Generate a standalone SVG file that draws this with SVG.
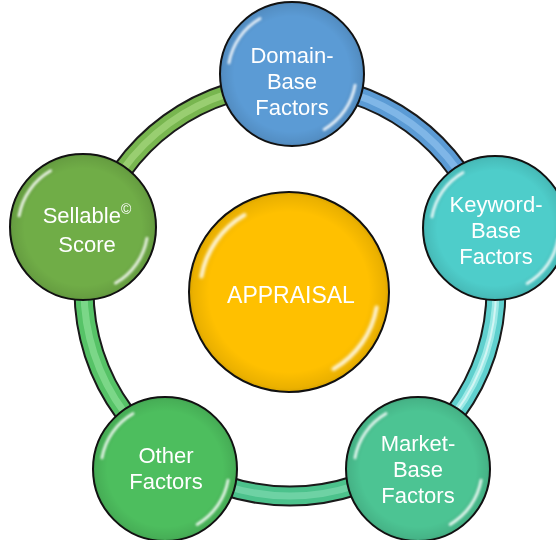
<svg xmlns="http://www.w3.org/2000/svg" xmlns:xlink="http://www.w3.org/1999/xlink" width="556" height="540" viewBox="0 0 556 540">
<defs>
<style>
.lbl{font-family:"Liberation Sans",Arial,sans-serif;font-size:22px;fill:#ffffff;text-anchor:middle}
.big{font-size:23px}
.edge{fill:url(#edgeShade);stroke:#111;stroke-width:2}
.tubeOut{fill:none;stroke:#1a1a1a;stroke-width:21}
.tube{fill:none;stroke-width:17}
.tubeMid{fill:none;stroke-width:7;opacity:0.7}
.tubeHi{fill:none;stroke:#fff;stroke-width:2;opacity:0.55}
.gloss{fill:none;stroke:#fff;stroke-width:4;stroke-linecap:round;opacity:0.85}
</style>
<radialGradient id="edgeShade" cx="0.5" cy="0.5" r="0.5">
<stop offset="0.8" stop-color="#000" stop-opacity="0"/>
<stop offset="0.96" stop-color="#000" stop-opacity="0.08"/>
<stop offset="1" stop-color="#000" stop-opacity="0.15"/>
</radialGradient>
<filter id="blur" x="-20%" y="-20%" width="140%" height="140%">
<feGaussianBlur stdDeviation="1.6"/>
</filter>
<g id="glossArcs" filter="url(#blur)">
<path class="gloss" d="M -87.6 -15.5 A 89 89 0 0 1 -44.5 -77"/>
<path class="gloss" d="M 87.6 15.5 A 89 89 0 0 1 44.5 77"/>
</g>
</defs>

<g id="connectors">
<g id="c-domain-keyword">
<path class="tubeOut" d="M 290 84 A 206 206 0 0 1 485.9 226.3"/>
<path class="tube" stroke="#5B9BD5" d="M 290 84 A 206 206 0 0 1 485.9 226.3"/>
<path class="tubeMid" stroke="#8FC2EE" d="M 290 84 A 206 206 0 0 1 485.9 226.3"/>
</g>
<g id="c-keyword-market">
<path class="tubeOut" d="M 485.9 226.3 A 206 206 0 0 1 411.1 456.7"/>
<path class="tube" stroke="#5FD0CE" d="M 485.9 226.3 A 206 206 0 0 1 411.1 456.7"/>
<path class="tubeMid" stroke="#B6F3F1" d="M 485.9 226.3 A 206 206 0 0 1 411.1 456.7"/>
<path class="tubeHi" d="M 485.9 226.3 A 206 206 0 0 1 411.1 456.7"/>
</g>
<g id="c-market-other">
<path class="tubeOut" d="M 411.1 456.7 A 206 206 0 0 1 168.9 456.7"/>
<path class="tube" stroke="#4CC28C" d="M 411.1 456.7 A 206 206 0 0 1 168.9 456.7"/>
<path class="tubeMid" stroke="#7ED8AE" d="M 411.1 456.7 A 206 206 0 0 1 168.9 456.7"/>
</g>
<g id="c-other-sellable">
<path class="tubeOut" d="M 168.9 456.7 A 206 206 0 0 1 94.1 226.3"/>
<path class="tube" stroke="#56C367" d="M 168.9 456.7 A 206 206 0 0 1 94.1 226.3"/>
<path class="tubeMid" stroke="#8BE097" d="M 168.9 456.7 A 206 206 0 0 1 94.1 226.3"/>
</g>
<g id="c-sellable-domain">
<path class="tubeOut" d="M 94.1 226.3 A 206 206 0 0 1 290 84"/>
<path class="tube" stroke="#78B64F" d="M 94.1 226.3 A 206 206 0 0 1 290 84"/>
<path class="tubeMid" stroke="#A6D880" d="M 94.1 226.3 A 206 206 0 0 1 290 84"/>
</g>
</g>

<g id="appraisal">
<circle cx="289" cy="292" r="100" fill="#FFC000"/>
<circle class="edge" cx="289" cy="292" r="100"/>
<use xlink:href="#glossArcs" transform="translate(289 292) scale(1)"/>
<text class="lbl big" x="291" y="303">APPRAISAL</text>
</g>

<g id="domain">
<circle cx="292" cy="74" r="72" fill="#5B9BD5"/>
<circle class="edge" cx="292" cy="74" r="72"/>
<use xlink:href="#glossArcs" transform="translate(292 74) scale(0.72)"/>
<text class="lbl" x="292" y="63">Domain-</text>
<text class="lbl" x="292" y="89">Base</text>
<text class="lbl" x="292" y="115">Factors</text>
</g>

<g id="keyword">
<circle cx="495" cy="228" r="72" fill="#4ECDCA"/>
<circle class="edge" cx="495" cy="228" r="72"/>
<use xlink:href="#glossArcs" transform="translate(495 228) scale(0.72)"/>
<text class="lbl" x="496" y="212">Keyword-</text>
<text class="lbl" x="496" y="238">Base</text>
<text class="lbl" x="496" y="264">Factors</text>
</g>

<g id="market">
<circle cx="418" cy="469" r="72" fill="#4CC493"/>
<circle class="edge" cx="418" cy="469" r="72"/>
<use xlink:href="#glossArcs" transform="translate(418 469) scale(0.72)"/>
<text class="lbl" x="418" y="451">Market-</text>
<text class="lbl" x="418" y="477">Base</text>
<text class="lbl" x="418" y="503">Factors</text>
</g>

<g id="other">
<circle cx="165" cy="469" r="72" fill="#4DBE5E"/>
<circle class="edge" cx="165" cy="469" r="72"/>
<use xlink:href="#glossArcs" transform="translate(165 469) scale(0.72)"/>
<text class="lbl" x="166" y="463">Other</text>
<text class="lbl" x="166" y="489">Factors</text>
</g>

<g id="sellable">
<circle cx="83" cy="227" r="73" fill="#70AD47"/>
<circle class="edge" cx="83" cy="227" r="73"/>
<use xlink:href="#glossArcs" transform="translate(83 227) scale(0.73)"/>
<text class="lbl" x="87" y="223">Sellable<tspan font-size="14" dy="-9">©</tspan></text>
<text class="lbl" x="87" y="252">Score</text>
</g>
</svg>
